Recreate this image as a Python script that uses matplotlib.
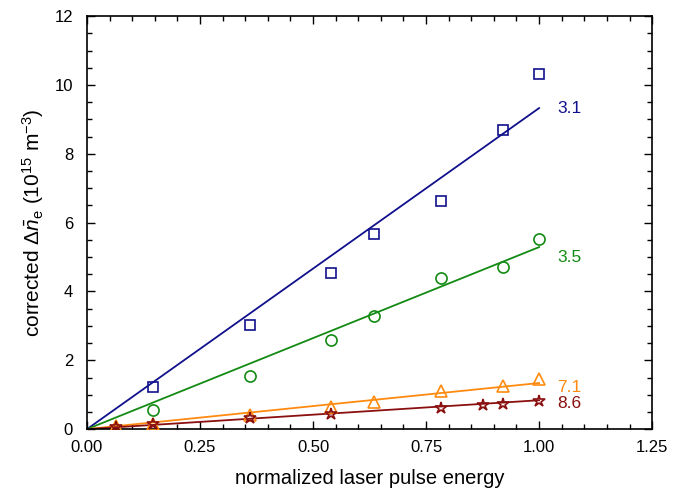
import matplotlib
matplotlib.use("Agg")
import matplotlib.pyplot as plt
import numpy as np
from matplotlib.ticker import MultipleLocator, FormatStrFormatter

plt.rcParams['font.family'] = ['Liberation Sans', 'DejaVu Sans']
plt.rcParams['mathtext.fontset'] = 'custom'
plt.rcParams['mathtext.rm'] = 'Liberation Sans'
plt.rcParams['mathtext.it'] = 'Liberation Sans:italic'

# energy / density values for each series
x_sq = [0.146, 0.36, 0.54, 0.635, 0.783, 0.92, 1.0]
y_sq = [1.22, 3.02, 4.53, 5.67, 6.63, 8.69, 10.32]
x_ci = [0.146, 0.36, 0.54, 0.635, 0.783, 0.92, 1.0]
y_ci = [0.55, 1.54, 2.59, 3.28, 4.39, 4.71, 5.52]
x_tr = [0.064, 0.146, 0.36, 0.54, 0.635, 0.783, 0.92, 1.0]
y_tr = [0.10, 0.15, 0.40, 0.65, 0.78, 1.10, 1.25, 1.45]
x_st = [0.064, 0.146, 0.36, 0.54, 0.783, 0.875, 0.92, 1.0]
y_st = [0.07, 0.15, 0.33, 0.45, 0.62, 0.70, 0.74, 0.82]

# linear fits through the origin
slopes = [9.33, 5.29, 1.34, 0.84]
labels = ['3.1', '3.5', '7.1', '8.6']
label_y = [9.33, 5.0, 1.20, 0.75]
colors = ['#10108c', '#138a13', '#ff8a0f', '#8a0f0f']
markers = ['s', 'o', '^', '*']
msizes = [6.5, 8, 8.5, 9]

fig = plt.figure(figsize=(6.85, 4.91), dpi=100)
ax = fig.add_axes([0.127, 0.126, 0.825, 0.841])

xs = [x_sq, x_ci, x_tr, x_st]
ys = [y_sq, y_ci, y_tr, y_st]
xfit = np.array([0.0, 1.0])
for i in range(4):
    ax.plot(xfit, slopes[i] * xfit, color=colors[i], lw=1.3, zorder=2)
    ax.plot(xs[i], ys[i], ls='none', marker=markers[i], ms=msizes[i],
            mfc='none', mec=colors[i], mew=1.2, zorder=3)
    ax.text(1.04, label_y[i], labels[i], color=colors[i], fontsize=12.5,
            ha='left', va='center')

ax.set_xlim(0, 1.25)
ax.set_ylim(0, 12)
ax.xaxis.set_major_locator(MultipleLocator(0.25))
ax.xaxis.set_minor_locator(MultipleLocator(0.05))
ax.yaxis.set_major_locator(MultipleLocator(2))
ax.yaxis.set_minor_locator(MultipleLocator(0.5))
ax.xaxis.set_major_formatter(FormatStrFormatter('%.2f'))
ax.tick_params(which='both', direction='in', top=True, right=True, labelsize=12)
ax.tick_params(axis='y', pad=10)
ax.tick_params(axis='x', pad=8)
ax.tick_params(which='major', length=6, width=1)
ax.tick_params(which='minor', length=3.5, width=1)
for s in ax.spines.values():
    s.set_linewidth(1.2)

ax.set_xlabel('normalized laser pulse energy', fontsize=14.5, labelpad=10)
ax.set_ylabel(r'corrected $\Delta\bar{n}_{\rm e}$ (10$^{15}$ m$^{-3}$)', fontsize=15, labelpad=6)

fig.savefig('out.png', dpi=100)
